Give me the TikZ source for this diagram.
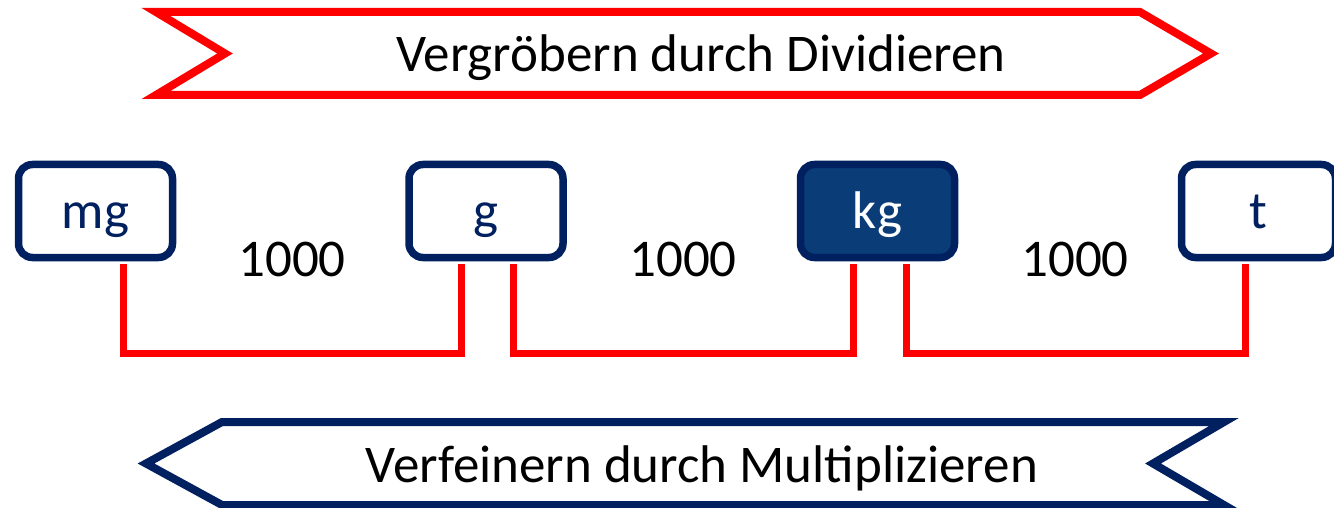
\documentclass[tikz,border=0pt]{standalone}
\usepackage{fontspec}
\setmainfont{Carlito}
\definecolor{navy}{RGB}{0,32,96}
\definecolor{kgfill}{RGB}{10,60,120}
\definecolor{redline}{RGB}{255,0,0}
\tikzset{
  bigfont/.style={font=\fontsize{53}{60}\selectfont},
  unitbox/.style={draw=navy, line width=7.5pt, rounded corners=14pt,
    minimum width=154pt, minimum height=93pt, inner sep=0pt,
    text height=40pt, text depth=4pt, text=navy, fill=white, bigfont},
  activebox/.style={unitbox, fill=kgfill, text=white},
  conn/.style={draw=redline, line width=7pt},
  factor/.style={anchor=base, text=black, bigfont, inner sep=0pt},
  chevtext/.style={anchor=base, text=black, bigfont, inner sep=0pt},
  redchev/.style={draw=redline, line width=8pt, fill=white},
  bluechev/.style={draw=navy, line width=8pt, fill=white}
}
\begin{document}
\begin{tikzpicture}[x=1pt,y=-1pt]
\useasboundingbox (0,0) rectangle (1334,508);
% top chevron
\draw[redchev] (156,12) -- (1140,12) -- (1211,53.5) -- (1140,95) -- (156,95) -- (225,53.5) -- cycle;
\node[chevtext] (coarse) at (701,72) {Vergröbern durch Dividieren};
% bottom chevron
\draw[bluechev] (146,463.5) -- (222,422) -- (1224,422) -- (1153,463.5) -- (1224,505) -- (222,505) -- cycle;
\node[chevtext] (fine) at (702,482) {Verfeinern durch Multiplizieren};
% unit boxes
\node[unitbox] (mg) at (95.5,211) {mg};
\node[unitbox] (g) at (486,211) {g};
\node[activebox] (kg) at (877.5,211) {kg};
\node[unitbox] (t) at (1258.5,211) {t};
% factors
\node[factor] (f1) at (292,276) {1000};
\node[factor] (f2) at (683,276) {1000};
\node[factor] (f3) at (1075,276) {1000};
% connectors
\draw[conn] ([xshift=27.5pt,yshift=-3pt]mg.south) -- ++(0,89.5) -| ([xshift=-25pt,yshift=-3pt]g.south);
\draw[conn] ([xshift=27pt,yshift=-3pt]g.south) -- ++(0,89.5) -| ([xshift=-24.5pt,yshift=-3pt]kg.south);
\draw[conn] ([xshift=28.5pt,yshift=-3pt]kg.south) -- ++(0,89.5) -| ([xshift=-13.5pt,yshift=-3pt]t.south);
\end{tikzpicture}
\end{document}
